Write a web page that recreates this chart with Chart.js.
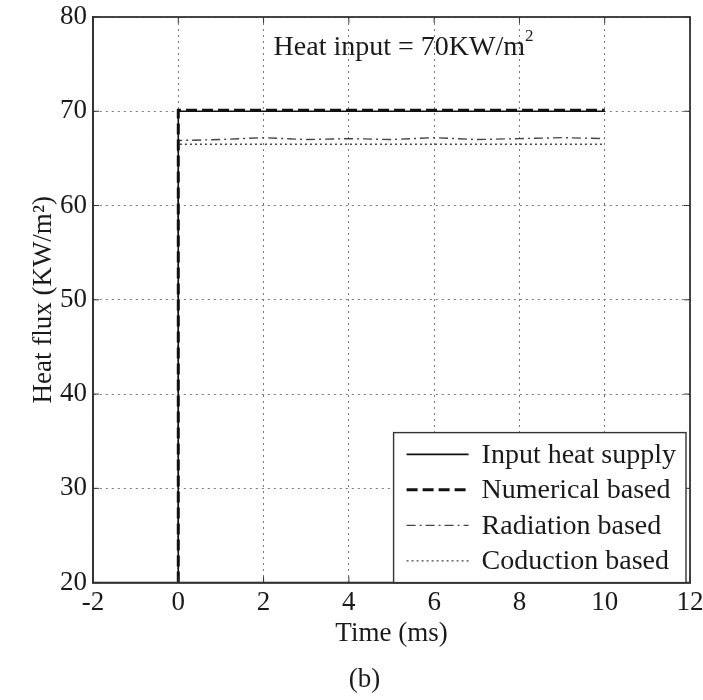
<!DOCTYPE html>
<html>
<head>
<meta charset="utf-8">
<script src="https://cdn.jsdelivr.net/npm/chart.js@4.4.0/dist/chart.umd.min.js"></script>
<style>
  html, body { margin: 0; padding: 0; background: #fff; overflow: hidden; }
  #wrap { width: 703px; height: 700px; }
</style>
</head>
<body>
<div id="wrap"><canvas id="fluxChart"></canvas></div>
<script>
"use strict";

// time axis (ms) and the four heat flux curves (KW/m2)
const time = [0, 0, 1, 2, 3, 4, 5, 6, 7, 8, 9, 10];
const inputHeat = [20, 70, 70, 70, 70, 70, 70, 70, 70, 70, 70, 70];
const numerical = [20, 70.1, 70.1, 70.1, 70.1, 70.1, 70.1, 70.1, 70.1, 70.1, 70.1, 70.1];
const radiation = [20, 66.9, 67.0, 67.2, 67.0, 67.1, 67.0, 67.2, 67.0, 67.1, 67.2, 67.1];
const conduction = [20, 66.5, 66.5, 66.5, 66.5, 66.5, 66.5, 66.5, 66.5, 66.5, 66.5, 66.5];

const xTicks = [-2, 0, 2, 4, 6, 8, 10, 12];
const yTicks = [20, 30, 40, 50, 60, 70, 80];

const serif = "'Liberation Serif', 'Times New Roman', serif";
const ink = '#1a1a1a';

function points(ys) {
  return time.map((t, i) => ({ x: t, y: ys[i] }));
}

// frame, inward ticks, the note and the legend box
const extras = {
  id: 'extras',
  afterDatasetsDraw(chart) {
    const { ctx, chartArea: a, scales } = chart;
    ctx.save();
    ctx.strokeStyle = '#333';
    ctx.lineWidth = 1.8;
    ctx.setLineDash([]);
    ctx.strokeRect(a.left, a.top, a.right - a.left, a.bottom - a.top);

    ctx.lineWidth = 1;
    xTicks.forEach(v => {
      const px = scales.x.getPixelForValue(v);
      ctx.beginPath();
      ctx.moveTo(px, a.bottom); ctx.lineTo(px, a.bottom - 6);
      ctx.moveTo(px, a.top); ctx.lineTo(px, a.top + 6);
      ctx.stroke();
    });
    yTicks.forEach(v => {
      const py = scales.y.getPixelForValue(v);
      ctx.beginPath();
      ctx.moveTo(a.left, py); ctx.lineTo(a.left + 6, py);
      ctx.moveTo(a.right, py); ctx.lineTo(a.right - 6, py);
      ctx.stroke();
    });

    // note at the top
    ctx.fillStyle = ink;
    ctx.font = '28px ' + serif;
    ctx.textBaseline = 'middle';
    const note = 'Heat input = 70KW/m';
    const nx = scales.x.getPixelForValue(5.3);
    const ny = scales.y.getPixelForValue(76.7);
    const w = ctx.measureText(note).width;
    ctx.textAlign = 'left';
    ctx.fillText(note, nx - w / 2 - 5, ny);
    ctx.font = '17px ' + serif;
    ctx.fillText('2', nx + w / 2 - 5, ny - 12);

    // legend
    ctx.font = '28px ' + serif;
    const ds = chart.data.datasets;
    const rowH = 35.5;
    const textW = Math.max(...ds.map(d => ctx.measureText(d.label).width));
    const boxW = 88 + textW + 10;
    const boxH = rowH * ds.length + 8;
    const bx = a.right - 4 - boxW;
    const by = a.bottom - boxH;
    ctx.fillStyle = '#fff';
    ctx.fillRect(bx, by, boxW, boxH);
    ctx.strokeStyle = '#333';
    ctx.lineWidth = 1.4;
    ctx.strokeRect(bx, by, boxW, boxH);
    ds.forEach((d, i) => {
      const cy = by + 4 + rowH * (i + 0.5);
      ctx.save();
      ctx.strokeStyle = d.borderColor;
      ctx.lineWidth = d.borderWidth;
      ctx.setLineDash(d.borderDash || []);
      ctx.beginPath();
      ctx.moveTo(bx + 13, cy);
      ctx.lineTo(bx + 75, cy);
      ctx.stroke();
      ctx.restore();
      ctx.fillStyle = ink;
      ctx.textAlign = 'left';
      ctx.fillText(d.label, bx + 88, cy + 1);
    });
    ctx.restore();
  }
};

new Chart(document.getElementById('fluxChart'), {
  type: 'line',
  data: {
    datasets: [
      { label: 'Input heat supply', data: points(inputHeat), borderColor: '#111', borderWidth: 1.6 },
      { label: 'Numerical based', data: points(numerical), borderColor: '#111', borderWidth: 3, borderDash: [11, 5] },
      { label: 'Radiation based', data: points(radiation), borderColor: '#444', borderWidth: 1.4, borderDash: [9, 4, 2, 4] },
      { label: 'Coduction based', data: points(conduction), borderColor: '#444', borderWidth: 1.4, borderDash: [2, 3] }
    ]
  },
  options: {
    responsive: true,
    maintainAspectRatio: false,
    animation: false,
    elements: { point: { radius: 0 }, line: { tension: 0 } },
    layout: { padding: { left: 26, right: 0, top: 17, bottom: 0 } },
    plugins: {
      legend: { display: false },
      tooltip: { enabled: false },
      title: {
        display: true,
        position: 'bottom',
        text: '(b)',
        color: ink,
        font: { family: serif, size: 27, weight: 'normal' },
        padding: { top: 11, bottom: 4 }
      }
    },
    scales: {
      x: {
        type: 'linear',
        min: -2,
        max: 12,
        afterBuildTicks: s => { s.ticks = xTicks.map(v => ({ value: v })); },
        afterFit: s => { s.height = 70; s.paddingRight = 13; s.paddingLeft = 0; },
        grid: { color: '#777', lineWidth: 1, drawTicks: false },
        border: { color: '#333', width: 1.8, dash: [2, 4] },
        ticks: { color: ink, font: { family: serif, size: 27 }, padding: 4 },
        title: {
          display: true,
          text: 'Time (ms)',
          color: ink,
          font: { family: serif, size: 27 },
          padding: { top: 0, bottom: 2 }
        }
      },
      y: {
        min: 20,
        max: 80,
        afterBuildTicks: s => { s.ticks = yTicks.map(v => ({ value: v })); },
        afterFit: s => { s.width = 67; s.paddingTop = 0; s.paddingBottom = 0; },
        grid: { color: '#777', lineWidth: 1, drawTicks: false },
        border: { color: '#333', width: 1.8, dash: [2, 4] },
        ticks: { color: ink, font: { family: serif, size: 27 }, padding: 6 },
        title: {
          display: true,
          text: 'Heat flux (KW/m²)',
          color: ink,
          font: { family: serif, size: 27 },
          padding: { top: 2, bottom: 0 }
        }
      }
    }
  },
  plugins: [extras]
});
</script>
</body>
</html>
